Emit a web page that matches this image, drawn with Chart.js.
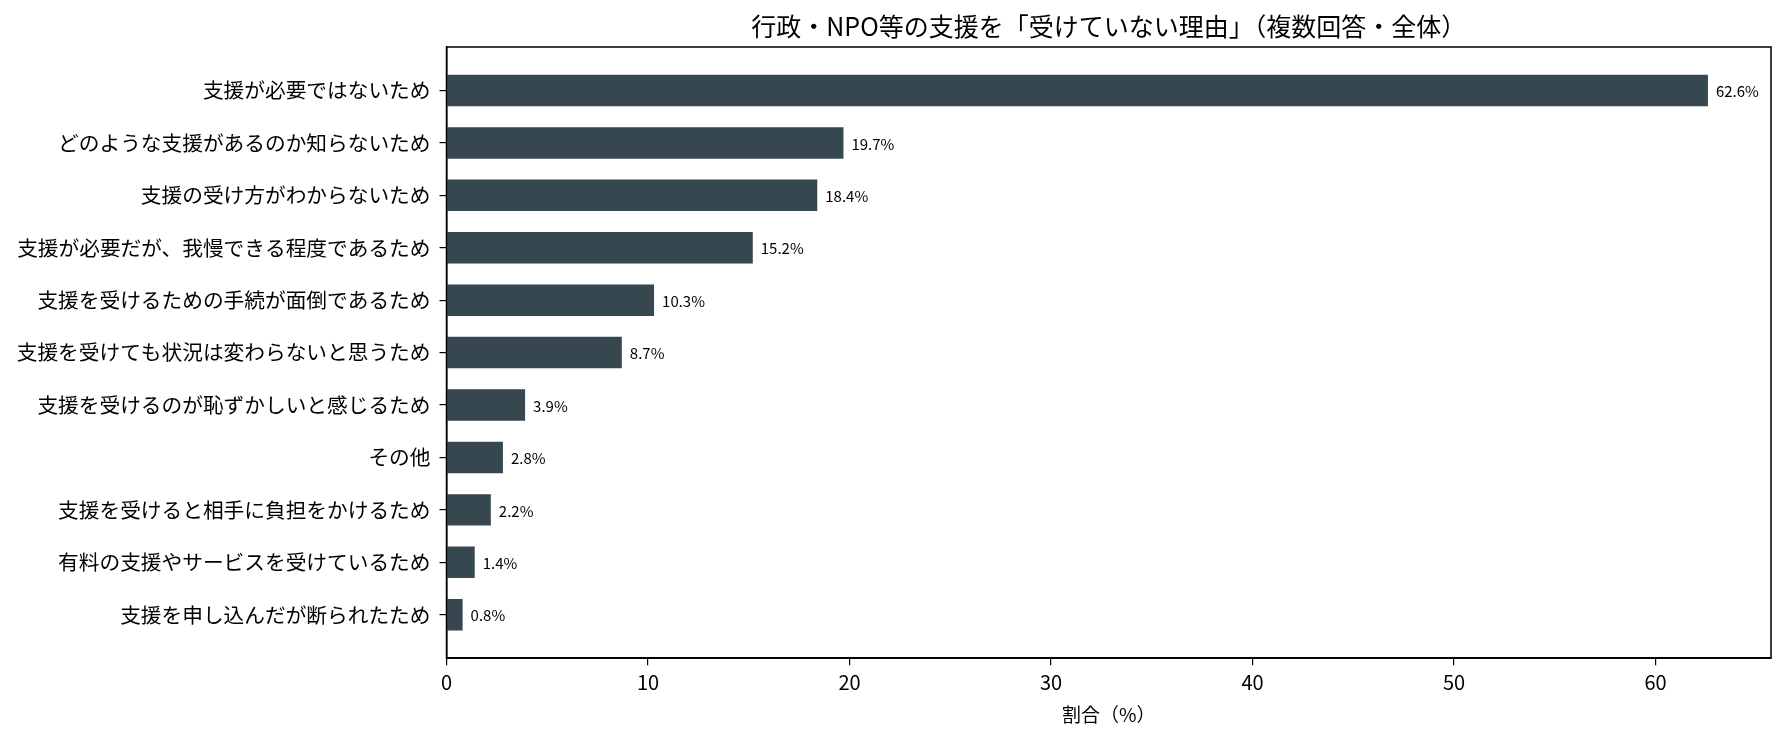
<!DOCTYPE html>
<html>
<head>
<meta charset="utf-8">
<script src="https://cdn.jsdelivr.net/npm/chart.js@4.4.0/dist/chart.umd.min.js"></script>
<style>
  body { margin: 0; background: #fff; }
  #wrap { width: 1786px; height: 733px; }
</style>
</head>
<body>
<div id="wrap"><canvas id="chart"></canvas></div>
<script>
const titleText = "行政・NPO等の支援を「受けていない理由」（複数回答・全体）";
const categories = [
  "支援が必要ではないため",
  "どのような支援があるのか知らないため",
  "支援の受け方がわからないため",
  "支援が必要だが、我慢できる程度であるため",
  "支援を受けるための手続が面倒であるため",
  "支援を受けても状況は変わらないと思うため",
  "支援を受けるのが恥ずかしいと感じるため",
  "その他",
  "支援を受けると相手に負担をかけるため",
  "有料の支援やサービスを受けているため",
  "支援を申し込んだが断られたため"
];
const values = [62.6, 19.7, 18.4, 15.2, 10.3, 8.7, 3.9, 2.8, 2.2, 1.4, 0.8];
const xTicks = [0, 10, 20, 30, 40, 50, 60];

const FONT = "'Liberation Sans Narrow', 'Noto Sans CJK JP', sans-serif";
const BAR = "#37474F";

// title centred on the plot area, plus frame and value labels
const extras = {
  id: 'extras',
  afterDraw(chart) {
    const ctx = chart.ctx;
    const a = chart.chartArea;
    ctx.save();
    ctx.strokeStyle = "#000";
    ctx.lineWidth = 1.5;
    ctx.strokeRect(a.left, a.top, a.right - a.left, a.bottom - a.top);

    ctx.fillStyle = "#000";
    ctx.font = "25px " + FONT;
    ctx.textAlign = "center";
    ctx.textBaseline = "middle";
    ctx.fillText(titleText, (a.left + a.right) / 2, 26);

    ctx.font = "15px " + FONT;
    ctx.textAlign = "left";
    const meta = chart.getDatasetMeta(0);
    meta.data.forEach((bar, i) => {
      ctx.fillText(values[i].toFixed(1) + "%", bar.x + 8, bar.y + 1);
    });
    ctx.restore();
  }
};

new Chart(document.getElementById('chart'), {
  type: 'bar',
  data: {
    datasets: [{
      data: values.map((v, i) => ({ x: v, y: i })),
      backgroundColor: BAR,
      borderWidth: 0,
      barPercentage: 0.6,
      categoryPercentage: 1.0
    }]
  },
  options: {
    indexAxis: 'y',
    responsive: true,
    maintainAspectRatio: false,
    animation: false,
    layout: { padding: { top: 47, right: 15, bottom: 3, left: 0 } },
    plugins: {
      legend: { display: false },
      tooltip: { enabled: false },
      title: { display: false }
    },
    scales: {
      x: {
        type: 'linear',
        min: 0,
        max: 65.73,
        afterBuildTicks: axis => { axis.ticks = xTicks.map(v => ({ value: v })); },
        ticks: { color: "#000", font: { family: FONT, size: 20 }, padding: 5 },
        grid: { drawOnChartArea: false, drawTicks: true, tickLength: 7, color: "#000", lineWidth: 1.2 },
        border: { display: true, color: "#000", width: 1.5 },
        title: { display: true, text: "割合（%）", color: "#000", font: { family: FONT, size: 19 }, padding: { top: 4, bottom: 4 } }
      },
      y: {
        type: 'linear',
        reverse: true,
        offset: false,
        min: -0.83,
        max: 10.83,
        afterBuildTicks: axis => { axis.ticks = categories.map((_, i) => ({ value: i })); },
        afterFit: axis => { axis.width = 446.5; },
        ticks: {
          color: "#000",
          font: { family: FONT, size: 20.7 },
          padding: 9,
          autoSkip: false,
          callback: v => categories[v]
        },
        grid: { offset: false, drawOnChartArea: false, drawTicks: true, tickLength: 7, color: "#000", lineWidth: 1.2 },
        border: { display: true, color: "#000", width: 1.5 }
      }
    }
  },
  plugins: [extras]
});
</script>
</body>
</html>
